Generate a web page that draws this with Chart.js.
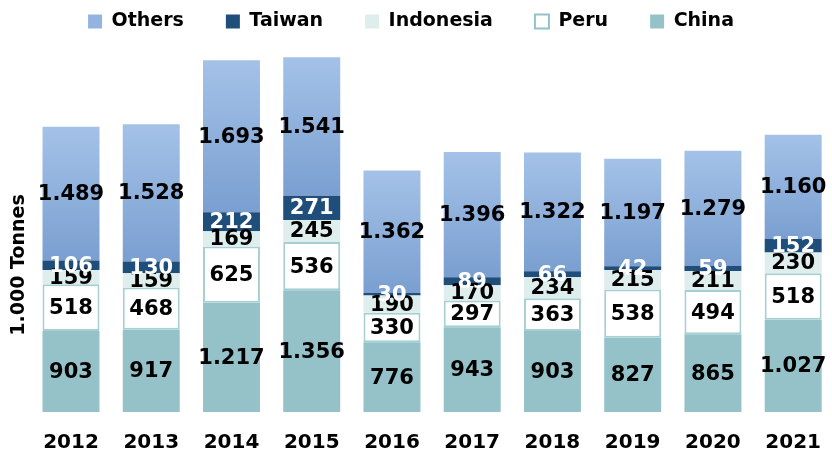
<!DOCTYPE html>
<html>
<head>
<meta charset="utf-8">
<script src="https://cdn.jsdelivr.net/npm/chart.js@4"></script>
<style>
  html, body { margin: 0; padding: 0; background: #ffffff; }
  #wrap { width: 832px; height: 456px; }
</style>
</head>
<body>
<div id="wrap"><canvas id="c" width="832" height="456"></canvas></div>
<script>
const years = ['2012','2013','2014','2015','2016','2017','2018','2019','2020','2021'];
const china     = [903, 917, 1217, 1356, 776, 943, 903, 827, 865, 1027];
const peru      = [518, 468, 625, 536, 330, 297, 363, 538, 494, 518];
const indonesia = [159, 159, 169, 245, 190, 170, 234, 215, 211, 230];
const taiwan    = [106, 130, 212, 271, 30, 89, 66, 42, 59, 152];
const others    = [1489, 1528, 1693, 1541, 1362, 1396, 1322, 1197, 1279, 1160];
const yTitle = '1.000 Tonnes';

const FONT = 'DejaVu Sans';

function fmt(v) {
  if (v >= 1000) return Math.floor(v / 1000) + '.' + String(v % 1000).padStart(3, '0');
  return String(v);
}

function othersGradient(c) {
  const fallback = '#8fb0dc';
  if (c.type !== 'data') return fallback;
  const ch = c.chart;
  const y = ch.scales && ch.scales.y;
  if (!y) return fallback;
  const i = c.dataIndex;
  const base = china[i] + peru[i] + indonesia[i] + taiwan[i];
  const top = base + others[i];
  const y0 = y.getPixelForValue(top), y1 = y.getPixelForValue(base);
  if (!isFinite(y0) || !isFinite(y1) || y0 === y1) return fallback;
  const g = ch.ctx.createLinearGradient(0, y0, 0, y1);
  g.addColorStop(0, '#a4c2e8');
  g.addColorStop(1, '#7a9fd0');
  return g;
}

const labelColors = ['#000000', '#000000', '#000000', '#ffffff', '#000000'];

const valueLabels = {
  id: 'valueLabels',
  afterDatasetsDraw(chart) {
    const ctx = chart.ctx;
    ctx.save();
    ctx.font = 'bold 21px "' + FONT + '"';
    ctx.textAlign = 'center';
    ctx.textBaseline = 'middle';
    chart.data.datasets.forEach((ds, di) => {
      const meta = chart.getDatasetMeta(di);
      ctx.fillStyle = labelColors[di];
      meta.data.forEach((el, i) => {
        const v = ds.data[i];
        ctx.fillText(fmt(v), el.x, (el.y + el.base) / 2 + 1);
      });
    });
    ctx.restore();
  }
};

const sideTitle = {
  id: 'sideTitle',
  afterDraw(chart) {
    const ctx = chart.ctx;
    ctx.save();
    ctx.font = 'bold 19px "' + FONT + '"';
    ctx.fillStyle = '#000000';
    ctx.textAlign = 'center';
    ctx.textBaseline = 'middle';
    ctx.translate(19, 265);
    ctx.rotate(-Math.PI / 2);
    ctx.fillText(yTitle, 0, 0);
    ctx.restore();
  }
};

const legendStyles = [
  { fill: '#94c2c8', stroke: '#94c2c8', w: 0 },
  { fill: '#ffffff', stroke: '#94c2c8', w: 2 },
  { fill: '#ddeeed', stroke: '#ddeeed', w: 0 },
  { fill: '#1f4e7a', stroke: '#1f4e7a', w: 0 },
  { fill: '#94b4e0', stroke: '#94b4e0', w: 0 }
];

new Chart(document.getElementById('c'), {
  type: 'bar',
  data: {
    labels: years,
    datasets: [
      { label: 'China', data: china, backgroundColor: '#94c2c8', borderWidth: 0 },
      { label: 'Peru', data: peru, backgroundColor: '#ffffff', borderColor: '#a6cfd3', borderWidth: 2, borderSkipped: false },
      { label: 'Indonesia', data: indonesia, backgroundColor: '#ddeeed', borderWidth: 0 },
      { label: 'Taiwan', data: taiwan, backgroundColor: '#1f4e7a', borderWidth: 0 },
      { label: 'Others', data: others, backgroundColor: othersGradient, borderWidth: 0 }
    ]
  },
  options: {
    responsive: false,
    animation: false,
    layout: { padding: { top: -30, right: 10, bottom: -10, left: 0 } },
    datasets: { bar: { categoryPercentage: 1, barPercentage: 0.71, clip: false } },
    plugins: {
      legend: {
        position: 'top',
        reverse: true,
        labels: {
          boxWidth: 14,
          boxHeight: 14,
          padding: 42,
          color: '#000000',
          font: { family: FONT, size: 19, weight: 'bold' },
          generateLabels(chart) {
            return chart.data.datasets.map((ds, i) => ({
              text: ds.label,
              fillStyle: legendStyles[i].fill,
              strokeStyle: legendStyles[i].stroke,
              lineWidth: legendStyles[i].w,
              fontColor: '#000000',
              datasetIndex: i,
              hidden: false
            }));
          }
        }
      },
      tooltip: { enabled: false }
    },
    scales: {
      x: {
        stacked: true,
        offset: false,
        grid: { display: false },
        border: { display: false },
        ticks: { color: '#000000', padding: 11, font: { family: FONT, size: 20, weight: 'bold' } }
      },
      y: {
        stacked: true,
        min: 0,
        max: 4130,
        grid: { display: false },
        border: { display: false },
        ticks: { display: false },
        afterFit(s) { s.width = 71; }
      },
      y2: {
        position: 'right',
        display: true,
        grid: { display: false },
        border: { display: false },
        ticks: { display: false },
        afterFit(s) { s.width = 24.5; }
      }
    }
  },
  plugins: [valueLabels, sideTitle]
});
</script>
</body>
</html>
